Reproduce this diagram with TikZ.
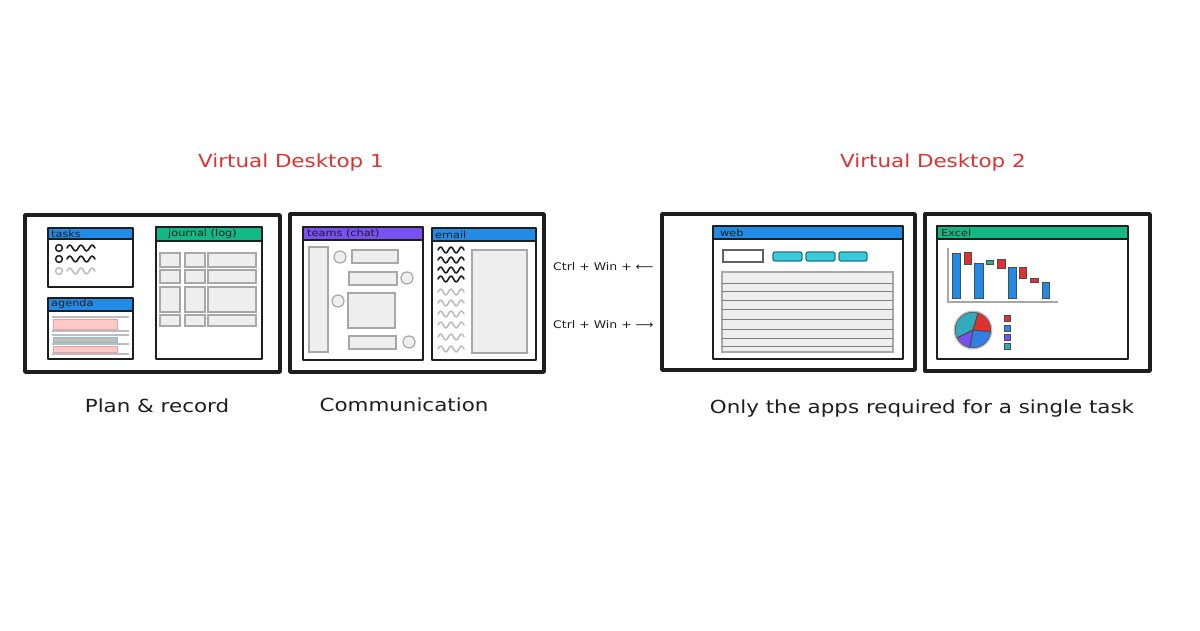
\documentclass[tikz,border=0pt]{standalone}
\usepackage{fontspec}
\setmainfont{DejaVu Sans}[FakeStretch=1.19]

\definecolor{ink}{HTML}{1E1E1E}
\definecolor{headred}{HTML}{E03131}
\definecolor{barblue}{HTML}{228BE6}
\definecolor{bargreen}{HTML}{12B886}
\definecolor{barpurple}{HTML}{7950F2}
\definecolor{cellfill}{HTML}{EEEEEE}
\definecolor{cellline}{HTML}{A8A8A8}
\definecolor{pinkfill}{HTML}{FFC9C9}
\definecolor{pinkline}{HTML}{E8A0A0}
\definecolor{tealfill}{HTML}{3BC9DB}
\definecolor{tealline}{HTML}{1A7A8A}
\definecolor{chartred}{HTML}{E03131}
\definecolor{lightgrey}{HTML}{BDBDBD}

\tikzset{
  frame/.style={draw=ink, line width=3.4pt, line join=round},
  winborder/.style={draw=ink, line width=2.1pt, line join=round},
  cell/.style={draw=cellline, fill=cellfill, line width=1.2pt},
  bubble/.style={draw=cellline, fill=cellfill, line width=1.2pt},
  squig/.style={line width=1.6pt, line cap=round, line join=round, draw=ink},
  squiggrey/.style={squig, draw=lightgrey},
  headline/.style={text=headred, font=\fontsize{18}{22}\selectfont},
  caption/.style={text=ink, font=\fontsize{18}{22}\selectfont},
  keys/.style={text=ink, font=\fontsize{10.5}{12}\selectfont, anchor=west, inner sep=0pt},
  wintitle/.style={text=ink, font=\fontsize{9.5}{11}\selectfont, anchor=west, inner sep=0pt},
  bar/.style={line width=1pt, draw=ink!80},
  agline/.style={draw=lightgrey, line width=1.1pt},
}

% window with a coloured title bar: #1 colour, (#2,#3) top-left, (#4,#5) bottom-right, #6 bar bottom
\newcommand{\appwindow}[6]{%
  \fill[white] (#2,#3) rectangle (#4,#5);
  \fill[#1] (#2,#3) rectangle (#4,#6);
  \draw[ink, line width=1.4pt] (#2,#6) -- (#4,#6);
  \draw[winborder] (#2,#3) rectangle (#4,#5);
}

% wavy placeholder line: #1 style, (#2,#3) start, #4 quarter-wave length
\newcommand{\wavyline}[4]{%
  \draw[#1] (#2,#3) sin ++(#4,-3) cos ++(#4,3) sin ++(#4,3) cos ++(#4,-3)
            sin ++(#4,-3) cos ++(#4,3) sin ++(#4,3) cos ++(#4,-3)
            sin ++(#4,-3) cos ++(#4,3);
}

\begin{document}
\begin{tikzpicture}[x=1pt, y=-1pt]
\useasboundingbox[fill=white] (0,0) rectangle (1200,630);

% ---------- headings ----------
\node[headline] (vd1) at (291,163) {Virtual Desktop 1};
\node[headline] (vd2) at (933,163) {Virtual Desktop 2};

% ---------- desktop 1: plan & record ----------
\draw[frame] (25,215) rectangle (280,372);

% tasks
\appwindow{barblue}{48}{228}{133}{287}{239}
\node[wintitle] (tasks) at (51,233.5) {tasks};
\draw[ink, line width=1.5pt] (59,248) circle[radius=3.4];
\draw[ink, line width=1.5pt] (59,259) circle[radius=3.4];
\draw[lightgrey, line width=1.5pt] (59,271) circle[radius=3.4];
\wavyline{squig}{67}{248}{2.8}
\wavyline{squig}{67}{259}{2.8}
\wavyline{squiggrey}{67}{271}{2.8}

% agenda
\appwindow{barblue}{48}{298}{133}{359}{311}
\node[wintitle] (agenda) at (51,304) {agenda};
\draw[agline] (52,317) -- (129,317);
\draw[agline] (52,331) -- (129,331);
\fill[pinkfill, draw=pinkline, line width=1pt] (53,319) rectangle (117,329);
\draw[agline] (52,335) -- (129,335);
\draw[agline] (52,344) -- (129,344);
\fill[lightgrey, draw=tealline!50, line width=0.9pt] (53,337) rectangle (117,342);
\draw[agline] (52,354) -- (129,354);
\fill[pinkfill, draw=pinkline, line width=0.9pt] (53,346) rectangle (117,352);

% journal
\appwindow{bargreen}{156}{227}{262}{359}{241}
\node[wintitle] (journal) at (168,234) {journal (log)};
\foreach \ya/\yb in {253/267, 270/283, 287/312, 315/326}{
  \draw[cell] (160,\ya) rectangle (180,\yb);
  \draw[cell] (185,\ya) rectangle (205,\yb);
  \draw[cell] (208,\ya) rectangle (256,\yb);
}

\node[caption] (plan) at (157,406) {Plan \& record};

% ---------- desktop 1: communication ----------
\draw[frame] (290,214) rectangle (544,372);

% teams
\appwindow{barpurple}{303}{227}{423}{360}{240}
\node[wintitle] (teams) at (307,233.5) {teams (chat)};
\draw[cell] (309,247) rectangle (328,352);
\draw[cell] (352,250) rectangle (398,263);
\draw[cell] (349,272) rectangle (397,285);
\draw[cell] (348,293) rectangle (395,328);
\draw[cell] (349,336) rectangle (396,349);
\draw[bubble] (340,257) circle[radius=6];
\draw[bubble] (407,278) circle[radius=6];
\draw[bubble] (338,301) circle[radius=6];
\draw[bubble] (409,342) circle[radius=6];

% email
\appwindow{barblue}{432}{228}{536}{360}{241}
\node[wintitle] (email) at (435,234.5) {email};
\foreach \y in {250,260,270,279}{ \wavyline{squig}{438}{\y}{2.6} }
\foreach \y in {292,303,314,325,337,349}{ \wavyline{squiggrey}{438}{\y}{2.6} }
\draw[cell] (472,250) rectangle (527,353);

\node[caption] (comm) at (404,405) {Communication};

% ---------- switching shortcuts ----------
\node[keys] (prev) at (553,267) {Ctrl + Win + ⟵};
\node[keys] (next) at (553,325) {Ctrl + Win + ⟶};

% ---------- desktop 2: web ----------
\draw[frame] (662,214) rectangle (915,370);
\appwindow{barblue}{713}{226}{903}{359}{239}
\node[wintitle] (web) at (720,232.5) {web};
\draw[ink!70, line width=1.3pt, fill=white] (723,250) rectangle (763,262);
\foreach \xa/\xb in {773/802, 806/835, 839/867}{
  \draw[tealline, fill=tealfill, line width=1.3pt, rounded corners=2pt] (\xa,252) rectangle (\xb,261);
}
\draw[draw=cellline, fill=cellfill, line width=1.5pt] (722,272) rectangle (893,352);
\foreach \y in {283,291,300,309,319,329,338,346}{
  \draw[cellline!70!ink, line width=1pt] (722,\y) -- (893,\y);
}

% ---------- desktop 2: excel ----------
\draw[frame] (925,214) rectangle (1150,371);
\appwindow{bargreen}{937}{226}{1128}{359}{239}
\node[wintitle] (excel) at (941,232.5) {Excel};

% waterfall chart
\draw[cellline, line width=1.6pt] (948,248) -- (948,302) -- (1058,302);
\filldraw[bar, fill=barblue] (952,253) rectangle (960,298);
\filldraw[bar, fill=chartred] (964,252) rectangle (971,264);
\filldraw[bar, fill=barblue] (974,263) rectangle (983,298);
\filldraw[bar, fill=bargreen] (986,260) rectangle (993,264);
\filldraw[bar, fill=chartred] (997,259) rectangle (1005,268);
\filldraw[bar, fill=barblue] (1008,267) rectangle (1016,298);
\filldraw[bar, fill=chartred] (1019,267) rectangle (1026,278);
\filldraw[bar, fill=chartred] (1030,278) rectangle (1038,282);
\filldraw[bar, fill=barblue] (1042,282) rectangle (1049,298);

% pie chart
\coordinate (pc) at (973,330);
\filldraw[bar, fill=tealfill!85!black] (pc) -- +(-73:18) arc[start angle=-73, end angle=-207, radius=18] -- cycle;
\filldraw[bar, fill=barpurple] (pc) -- +(-207:18) arc[start angle=-207, end angle=-260, radius=18] -- cycle;
\filldraw[bar, fill=barblue!80!barpurple] (pc) -- +(-260:18) arc[start angle=-260, end angle=-355, radius=18] -- cycle;
\filldraw[bar, fill=chartred] (pc) -- +(-355:18) arc[start angle=-355, end angle=-433, radius=18] -- cycle;
\draw[lightgrey, line width=1.3pt] (pc) circle[radius=18.8];

% legend
\filldraw[bar, fill=chartred]  (1004,315) rectangle (1010,321);
\filldraw[bar, fill=barblue]   (1004,325) rectangle (1010,331);
\filldraw[bar, fill=barpurple] (1004,334) rectangle (1010,340);
\filldraw[bar, fill=tealfill!85!black]  (1004,343) rectangle (1010,349);

\node[caption] (task) at (922,409) {Only the apps required for a single task};
\end{tikzpicture}
\end{document}
